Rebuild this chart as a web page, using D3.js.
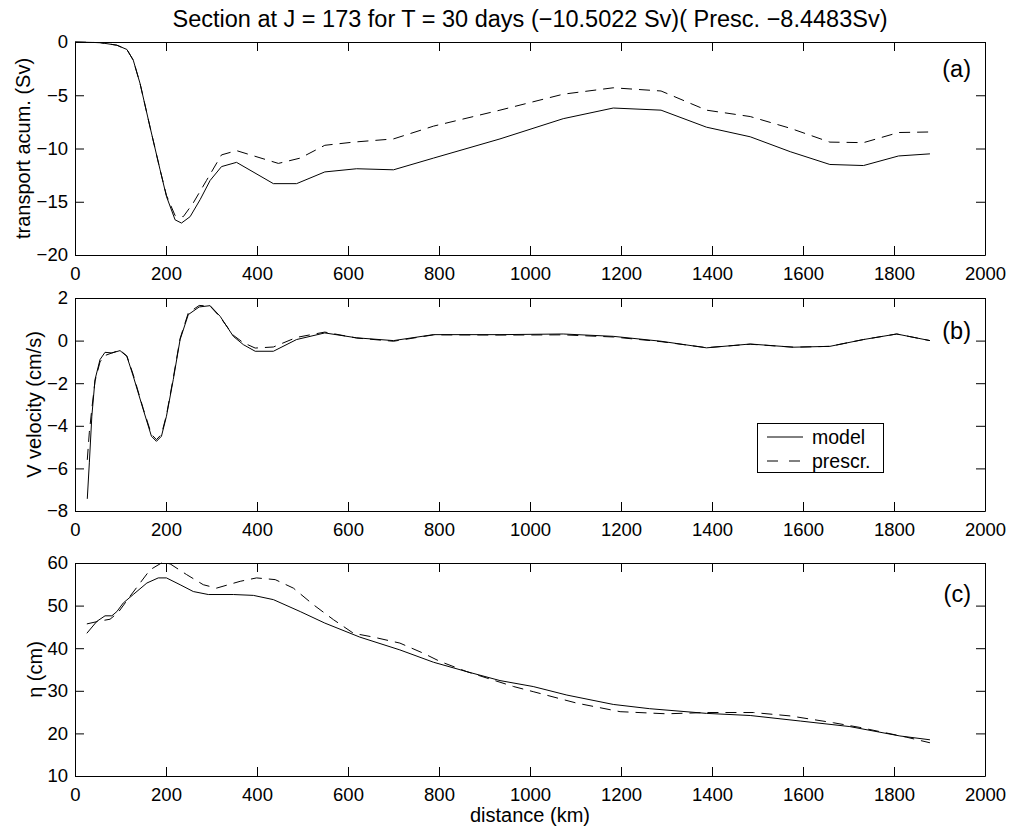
<!DOCTYPE html>
<html>
<head>
<meta charset="utf-8">
<script src="https://cdn.jsdelivr.net/npm/d3@7"></script>
<style>
body { margin: 0; background: #fff; }
text { font-family: "Liberation Sans", Arial, sans-serif; fill: #000; }
</style>
</head>
<body>
<div id="chart"></div>
<script>
// (a) accumulated transport (Sv)
var kmA_model = [0, 55, 92, 114, 128, 143, 165, 187, 201, 220, 234, 253, 275, 297, 322, 355, 436, 487, 549, 619, 700, 788, 934, 1073, 1183, 1288, 1388, 1484, 1572, 1659, 1733, 1810, 1879];
var transModel = [0, -0.06, -0.3, -0.7, -1.7, -3.9, -8, -12, -14.5, -16.7, -17, -16.4, -14.8, -13, -11.7, -11.3, -13.3, -13.3, -12.2, -11.9, -12, -10.9, -9.1, -7.2, -6.2, -6.4, -8.0, -8.9, -10.3, -11.5, -11.6, -10.7, -10.5022];
var kmA_presc = [0, 55, 92, 114, 128, 143, 165, 187, 201, 220, 238, 260, 289, 322, 355, 447, 495, 549, 612, 700, 788, 934, 1073, 1183, 1288, 1388, 1484, 1572, 1659, 1733, 1810, 1879];
var transPresc = [0, -0.06, -0.3, -0.7, -1.7, -3.9, -8, -12, -14.4, -16.3, -16.4, -15.1, -13, -10.6, -10.2, -11.4, -10.9, -9.7, -9.4, -9.1, -7.9, -6.4, -4.9, -4.3, -4.6, -6.4, -7.0, -8.1, -9.4, -9.45, -8.5, -8.4483];

// (b) V velocity (cm/s)
var kmB_model = [27, 31.5, 37, 44, 55, 66, 81, 99, 114, 128, 150, 168, 179, 190, 201, 216, 231, 249, 273, 297, 319, 348, 370, 396, 436, 487, 549, 619, 700, 788, 934, 1073, 1183, 1288, 1388, 1484, 1579, 1659, 1733, 1806, 1879];
var vModel = [-7.43, -5.74, -3.55, -1.83, -0.89, -0.55, -0.58, -0.47, -0.74, -1.67, -3.24, -4.49, -4.73, -4.49, -3.55, -1.83, 0.05, 1.22, 1.58, 1.64, 1.14, 0.2, -0.19, -0.5, -0.5, 0.05, 0.36, 0.13, 0, 0.28, 0.28, 0.31, 0.2, -0.03, -0.34, -0.16, -0.31, -0.27, 0.05, 0.31, 0];
var kmB_presc = [27, 31.5, 37, 44, 55, 66, 81, 99, 114, 128, 150, 168, 179, 190, 201, 216, 231, 249, 273, 297, 319, 348, 370, 396, 436, 487, 549, 619, 700, 788, 934, 1073, 1183, 1288, 1388, 1484, 1579, 1659, 1733, 1806, 1879];
var vPresc = [-5.6, -4.3, -3.2, -1.9, -1.0, -0.7, -0.58, -0.45, -0.72, -1.6, -3.2, -4.4, -4.65, -4.4, -3.5, -1.75, 0.1, 1.3, 1.65, 1.62, 1.1, 0.25, -0.1, -0.35, -0.3, 0.15, 0.4, 0.12, -0.03, 0.27, 0.26, 0.27, 0.17, -0.05, -0.33, -0.17, -0.31, -0.27, 0.05, 0.31, 0];

// (c) eta (cm)
var kmC_model = [26, 48, 66, 81, 92, 106, 128, 158, 183, 201, 231, 260, 293, 348, 392, 436, 495, 549, 626, 714, 788, 861, 934, 1007, 1081, 1183, 1263, 1388, 1484, 1594, 1703, 1813, 1879];
var etaModel = [43.5, 46.3, 47.6, 47.6, 48.6, 50.6, 52.6, 55.3, 56.5, 56.5, 54.9, 53.3, 52.6, 52.6, 52.4, 51.4, 48.6, 45.9, 42.6, 39.6, 36.7, 34.5, 32.4, 31, 29, 26.8, 25.8, 24.7, 24.2, 22.9, 21.6, 19.4, 18.5];
var kmC_presc = [26, 51, 77, 95, 121, 143, 165, 190, 209, 245, 282, 311, 363, 399, 440, 480, 524, 568, 612, 656, 714, 766, 802, 861, 905, 964, 1007, 1103, 1198, 1300, 1388, 1491, 1572, 1667, 1725, 1828, 1879];
var etaPresc = [45.7, 46.3, 46.8, 48.4, 52.2, 55.3, 58.4, 60, 59.8, 57.3, 54.9, 54.1, 55.7, 56.5, 56.1, 54.1, 50.2, 46.7, 43.5, 42.6, 41.2, 38.8, 36.9, 34.5, 33, 31, 29.8, 27.1, 25.1, 24.6, 24.9, 24.9, 24.1, 22.5, 21.4, 19.1, 17.8];

var xTicks = [0, 200, 400, 600, 800, 1000, 1200, 1400, 1600, 1800, 2000];
var yTicksA = [0, -5, -10, -15, -20];
var yTicksB = [2, 0, -2, -4, -6, -8];
var yTicksC = [60, 50, 40, 30, 20, 10];
var titleText = "Section at J = 173 for T = 30 days (\u221210.5022 Sv)( Presc. \u22128.4483Sv)";

var svgWidth = 1017, svgHeight = 832;
var left = 75, right = 985;
var tickFont = 18.5, labelFont = 20;

var svg = d3.select("#chart")
  .append("svg")
  .attr("width", svgWidth)
  .attr("height", svgHeight);

var x = d3.scaleLinear().domain([0, 2000]).range([left, right]);

var panels = [
  { top: 42, bottom: 255, domain: [-20, 0], ticks: yTicksA, label: "transport acum. (Sv)", labelX: 23, tag: "(a)", tagY: 77,
    model: [kmA_model, transModel], presc: [kmA_presc, transPresc] },
  { top: 298, bottom: 511, domain: [-8, 2], ticks: yTicksB, label: "V velocity (cm/s)", labelX: 34, tag: "(b)", tagY: 338.5,
    model: [kmB_model, vModel], presc: [kmB_presc, vPresc] },
  { top: 563, bottom: 776, domain: [10, 60], ticks: yTicksC, label: "\u03b7 (cm)", labelX: 35, tag: "(c)", tagY: 602,
    model: [kmC_model, etaModel], presc: [kmC_presc, etaPresc] }
];

var fmt = d3.format("");

panels.forEach(function(p) {
  var y = d3.scaleLinear().domain(p.domain).range([p.bottom, p.top]);
  var g = svg.append("g");

  // ticks pointing inward on all four sides
  var bottomAxis = d3.axisBottom(x).tickValues(xTicks).tickSizeInner(-9).tickSizeOuter(0).tickPadding(11.5).tickFormat(fmt);
  var topAxis = d3.axisTop(x).tickValues(xTicks).tickSizeInner(-9).tickSizeOuter(0).tickFormat("");
  var leftAxis = d3.axisLeft(y).tickValues(p.ticks).tickSizeInner(-9).tickSizeOuter(0).tickPadding(7).tickFormat(fmt);
  var rightAxis = d3.axisRight(y).tickValues(p.ticks).tickSizeInner(-9).tickSizeOuter(0).tickFormat("");

  g.append("g").attr("transform", "translate(0," + p.bottom + ")").call(bottomAxis);
  g.append("g").attr("transform", "translate(0," + p.top + ")").call(topAxis);
  g.append("g").attr("transform", "translate(" + left + ",0)").call(leftAxis);
  g.append("g").attr("transform", "translate(" + right + ",0)").call(rightAxis);

  g.selectAll(".tick text").style("font-size", tickFont + "px").style("font-family", "'Liberation Sans', Arial, sans-serif");
  g.selectAll(".tick line").attr("stroke", "#000");
  g.selectAll(".domain").attr("stroke", "#000");

  var line = d3.line()
    .x(function(d) { return x(d[0]); })
    .y(function(d) { return y(d[1]); });

  var modelPts = d3.zip(p.model[0], p.model[1]);
  var prescPts = d3.zip(p.presc[0], p.presc[1]);

  g.append("path")
    .datum(prescPts)
    .attr("d", line)
    .attr("fill", "none")
    .attr("stroke", "#000")
    .attr("stroke-width", 1)
    .attr("stroke-dasharray", "11,7");

  g.append("path")
    .datum(modelPts)
    .attr("d", line)
    .attr("fill", "none")
    .attr("stroke", "#000")
    .attr("stroke-width", 1);

  // y label
  g.append("text")
    .attr("transform", "translate(" + p.labelX + "," + ((p.top + p.bottom) / 2) + ") rotate(-90)")
    .attr("text-anchor", "middle")
    .attr("dy", "0.35em")
    .style("font-size", labelFont + "px")
    .text(p.label);

  // panel tag
  g.append("text")
    .attr("x", 971)
    .attr("y", p.tagY)
    .attr("text-anchor", "end")
    .style("font-size", "23.5px")
    .text(p.tag);
});

// title
svg.append("text")
  .attr("x", (left + right) / 2)
  .attr("y", 27)
  .attr("text-anchor", "middle")
  .style("font-size", "23.5px")
  .text(titleText);

// x label
svg.append("text")
  .attr("x", (left + right) / 2)
  .attr("y", 822)
  .attr("text-anchor", "middle")
  .style("font-size", labelFont + "px")
  .text("distance (km)");

// legend in panel (b)
var legend = svg.append("g");
legend.append("rect")
  .attr("x", 757.5).attr("y", 423.5)
  .attr("width", 126).attr("height", 49)
  .attr("fill", "#fff").attr("stroke", "#000");
var legendItems = [["model", null, 437], ["prescr.", "11,11", 461]];
legendItems.forEach(function(it) {
  legend.append("line")
    .attr("x1", 767).attr("x2", 803)
    .attr("y1", it[2]).attr("y2", it[2])
    .attr("stroke", "#000")
    .attr("stroke-dasharray", it[1]);
  legend.append("text")
    .attr("x", 812).attr("y", it[2])
    .attr("dy", "0.35em")
    .style("font-size", "19.5px")
    .text(it[0]);
});
</script>
</body>
</html>
